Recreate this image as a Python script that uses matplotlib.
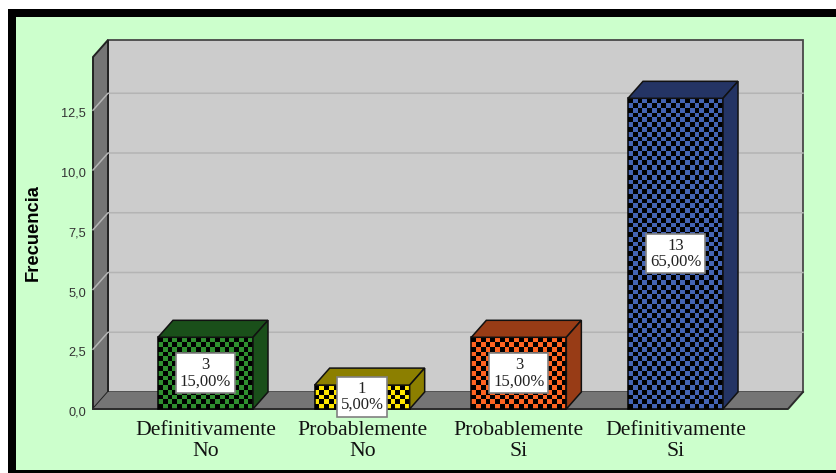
import numpy as np
import matplotlib
matplotlib.use('Agg')
import matplotlib.pyplot as plt
from matplotlib.colors import ListedColormap
from matplotlib.patches import Polygon, Rectangle
from matplotlib.transforms import ScaledTranslation

categories = ['Definitivamente\nNo', 'Probablemente\nNo', 'Probablemente\nSi', 'Definitivamente\nSi']
freq = [3, 1, 3, 13]
pct_labels = ['15,00%', '5,00%', '15,00%', '65,00%']
y_ticks = [0, 2.5, 5, 7.5, 10, 12.5]
y_tick_labels = ['0,0', '2,5', '5,0', '7,5', '10,0', '12,5']
face_colors = ['#2f8f2f', '#ffe600', '#ff6422', '#4464b4']
side_colors = ['#1a4f1a', '#8c7f00', '#983c16', '#243464']

W, H = 837, 473
fig = plt.figure(figsize=(W / 100, H / 100), dpi=100, facecolor='white')

# black frame, open on the right edge
fig.add_artist(Rectangle((8 / W, 0), 1, 1 - 9 / H, transform=fig.transFigure, fc='black', ec='none', zorder=-2))
fig.add_artist(Rectangle((16 / W, 3 / H), 1, 1 - 20 / H, transform=fig.transFigure, fc='#ccffcc', ec='none', zorder=-1))

# axes cover the front plane of the box
left, right, floor, top = 93, 788, 409, 57
ax = fig.add_axes([left / W, 1 - floor / H, (right - left) / W, (floor - top) / H])
ax.patch.set_visible(False)
for s in ax.spines.values():
    s.set_visible(False)

px_x = 156.67
px_y = 23.9
ax.set_xlim((left - 205.5) / px_x, (right - 205.5) / px_x)
ax.set_ylim(0, (floor - top) / px_y)
x0, x1 = ax.get_xlim()
y1 = ax.get_ylim()[1]

dx = 15 / px_x
dy = 17 / px_y
edge = '#2a2a2a'

# back wall, side wall and floor
ax.add_patch(Polygon([(x0 + dx, dy), (x1 + dx, dy), (x1 + dx, y1 + dy), (x0 + dx, y1 + dy)],
                     fc='#cccccc', ec='#484848', lw=1.3, clip_on=False, zorder=1))
ax.add_patch(Polygon([(x0, 0), (x0 + dx, dy), (x0 + dx, y1 + dy), (x0, y1)],
                     fc='#757575', ec='#222222', lw=1.4, clip_on=False, zorder=1))
ax.add_patch(Polygon([(x0, 0), (x1, 0), (x1 + dx, dy), (x0 + dx, dy)],
                     fc='#757575', ec='none', clip_on=False, zorder=1.5))
ax.plot([x0, x1, x1 + dx], [0, 0, dy], color=edge, lw=1.4, clip_on=False, zorder=2)

for t in y_ticks[1:]:
    ax.plot([x0, x0 + dx, x1 + dx], [t, t + dy, t + dy], color='#b4b4b4', lw=1.1,
            clip_on=False, zorder=1.8)

bar_w = 95 / px_x
cell = 4.75
for i, v in enumerate(freq):
    xl, xr = i - bar_w / 2, i + bar_w / 2
    # checkered front face
    nx = int(round(95 / cell))
    ny = max(int(round(v * px_y / cell)), 1)
    xs = np.linspace(xl, xr, nx + 1)
    ys = np.linspace(0, v, ny + 1)
    checks = np.indices((ny, nx)).sum(axis=0) % 2
    ax.pcolormesh(xs, ys, checks, cmap=ListedColormap(['black', face_colors[i]]),
                  vmin=0, vmax=1, zorder=3, clip_on=False)
    ax.add_patch(Rectangle((xl, 0), bar_w, v, fc='none', ec='black', lw=1.1, zorder=4, clip_on=False))
    # top and side faces
    ax.add_patch(Polygon([(xl, v), (xr, v), (xr + dx, v + dy), (xl + dx, v + dy)],
                         fc=side_colors[i], ec='#111111', lw=1.1, zorder=4, clip_on=False))
    ax.add_patch(Polygon([(xr, 0), (xr + dx, dy), (xr + dx, v + dy), (xr, v)],
                         fc=side_colors[i], ec='#111111', lw=1.1, zorder=4, clip_on=False))
    ax.text(i, v / 2, '%d\n%s' % (v, pct_labels[i]), ha='center', va='center',
            family='Liberation Serif', fontsize=12, color='#222222', linespacing=1.0, zorder=6,
            bbox=dict(boxstyle='square,pad=0.22', fc='white', ec='#808080', lw=1.2))

ax.set_xticks(range(len(categories)))
ax.set_xticklabels(categories, family='Liberation Serif', fontsize=15.6, color='#111111', linespacing=1.14)
ax.set_yticks(y_ticks)
ax.set_yticklabels(y_tick_labels, family='Liberation Sans', fontsize=9.2, color='#333333')
ax.tick_params(axis='x', length=0, pad=8.5)
ax.tick_params(axis='y', length=0, pad=5)

# numbers sit a little under their gridlines
shift = ScaledTranslation(0, -2 / 100, fig.dpi_scale_trans)
for lab in ax.get_yticklabels():
    lab.set_transform(lab.get_transform() + shift)

ax.set_ylabel('Frecuencia', family='Liberation Sans', fontsize=13.2, fontweight='bold', color='black')
ax.yaxis.set_label_coords(-51 / (right - left), (floor - 233) / (floor - top))

fig.savefig('out.png', dpi=100, facecolor=fig.get_facecolor())
